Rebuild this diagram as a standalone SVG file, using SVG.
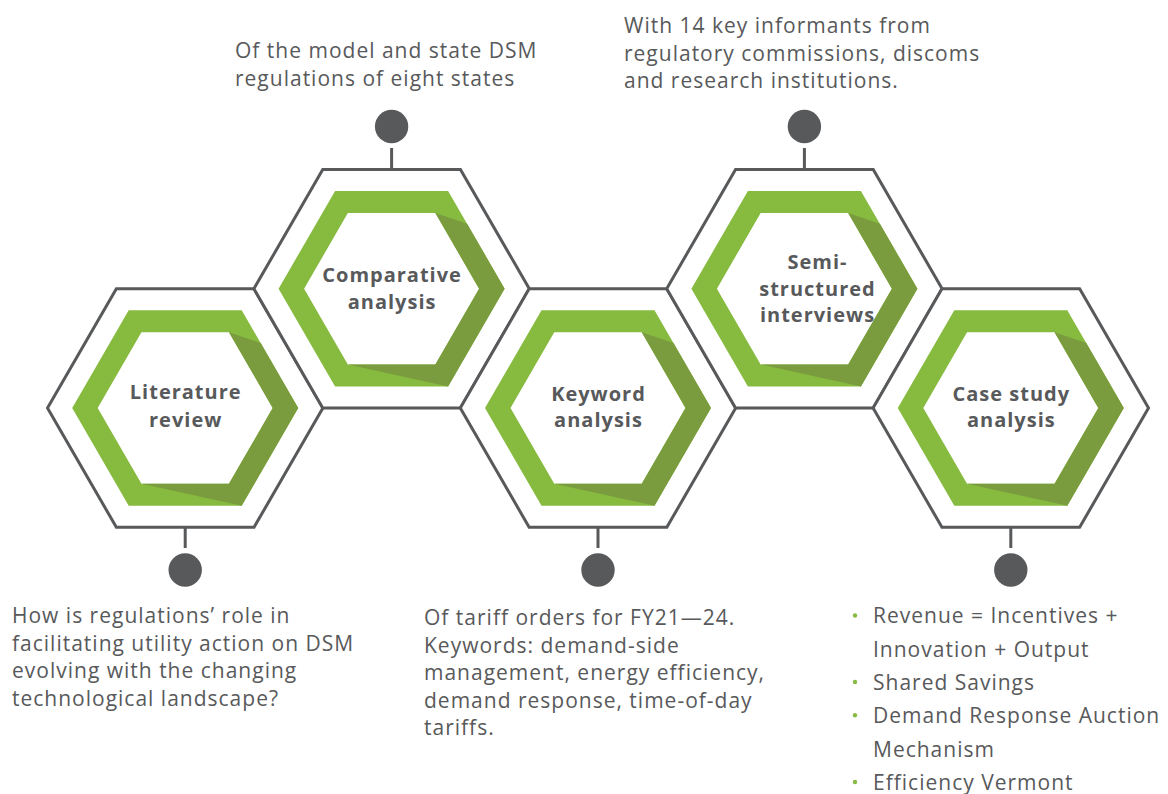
<svg xmlns="http://www.w3.org/2000/svg" xmlns:xlink="http://www.w3.org/1999/xlink" width="1168" height="794" viewBox="0 0 1168 794">
  <style>
    .frame { fill: #ffffff; stroke: #58595b; stroke-width: 3; stroke-linejoin: miter; }
    .ring { fill: #86bb40; fill-rule: evenodd; }
    .shade { fill: #7a9c3e; }
    .label { font-family: "Open Sans", "Liberation Sans", sans-serif; font-weight: 700; font-size: 20px; letter-spacing: 1px; fill: #58595b; text-anchor: middle; }
    .note { font-family: "Open Sans", "Liberation Sans", sans-serif; font-size: 21px; letter-spacing: 1px; fill: #58595b; }
    .stem { stroke: #58595b; stroke-width: 3; }
    .pin { fill: #58595b; }
    .dot { fill: #86bb40; }
  </style>
  <defs>
    <!-- one honeycomb cell, centred on the origin -->
    <g id="cell">
      <polygon class="frame" points="-137.7,0 -68.85,-119.25 68.85,-119.25 137.7,0 68.85,119.25 -68.85,119.25"/>
      <path class="ring" d="M-113,0 L-56.5,-97.86 L56.5,-97.86 L113,0 L56.5,97.86 L-56.5,97.86 Z M-87.5,0 L-43.75,-75.78 L43.75,-75.78 L87.5,0 L43.75,75.78 L-43.75,75.78 Z"/>
      <polygon class="shade" points="43.75,-75.78 75.5,-65 113,0 56.5,97.86 -43.75,75.78 43.75,75.78 87.5,0"/>
    </g>
  </defs>

  <!-- connectors: stems and pins -->
  <g id="connectors">
    <line class="stem" x1="185.2" y1="527" x2="185.2" y2="548"/>
    <circle class="pin" cx="185.2" cy="570" r="16.7"/>
    <line class="stem" x1="391.6" y1="170" x2="391.6" y2="148"/>
    <circle class="pin" cx="391.6" cy="126.5" r="16.7"/>
    <line class="stem" x1="598" y1="527" x2="598" y2="548"/>
    <circle class="pin" cx="598" cy="570" r="16.7"/>
    <line class="stem" x1="804.4" y1="170" x2="804.4" y2="148"/>
    <circle class="pin" cx="804.4" cy="126.5" r="16.7"/>
    <line class="stem" x1="1010.8" y1="527" x2="1010.8" y2="548"/>
    <circle class="pin" cx="1010.8" cy="570" r="16.7"/>
  </g>

  <g id="literature-review">
    <use xlink:href="#cell" href="#cell" x="185.2" y="408"/>
    <text class="label" x="185.7" y="399">Literature</text>
    <text class="label" x="185.7" y="426.5">review</text>
  </g>

  <g id="comparative-analysis">
    <use xlink:href="#cell" href="#cell" x="391.6" y="288.75"/>
    <text class="label" x="392.1" y="281.5">Comparative</text>
    <text class="label" x="392.1" y="308.5">analysis</text>
  </g>

  <g id="keyword-analysis">
    <use xlink:href="#cell" href="#cell" x="598" y="408"/>
    <text class="label" x="598.5" y="400.5">Keyword</text>
    <text class="label" x="598.5" y="427">analysis</text>
  </g>

  <g id="semi-structured-interviews">
    <use xlink:href="#cell" href="#cell" x="804.4" y="288.75"/>
    <text class="label" x="817.5" y="268.5">Semi-</text>
    <text class="label" x="817.5" y="295.5">structured</text>
    <text class="label" x="817.5" y="322">interviews</text>
  </g>

  <g id="case-study-analysis">
    <use xlink:href="#cell" href="#cell" x="1010.8" y="408"/>
    <text class="label" x="1011.3" y="400.5">Case study</text>
    <text class="label" x="1011.3" y="427">analysis</text>
  </g>

  <g id="note-comparative">
    <text class="note" x="235" y="58.3">Of the model and state DSM</text>
    <text class="note" x="235" y="85.8">regulations of eight states</text>
  </g>

  <g id="note-interviews">
    <text class="note" x="624" y="33">With 14 key informants from</text>
    <text class="note" x="624" y="60.5">regulatory commissions, discoms</text>
    <text class="note" x="624" y="88">and research institutions.</text>
  </g>

  <g id="note-literature">
    <text class="note" x="12" y="623.3">How is regulations’ role in</text>
    <text class="note" x="12" y="650.8">facilitating utility action on DSM</text>
    <text class="note" x="12" y="678.3">evolving with the changing</text>
    <text class="note" x="12" y="705.8">technological landscape?</text>
  </g>

  <g id="note-keyword">
    <text class="note" x="424" y="625">Of tariff orders for FY21—24.</text>
    <text class="note" x="424" y="652.5">Keywords: demand-side</text>
    <text class="note" x="424" y="680">management, energy efficiency,</text>
    <text class="note" x="424" y="707.5">demand response, time-of-day</text>
    <text class="note" x="424" y="735">tariffs.</text>
  </g>

  <g id="note-case-study">
    <circle class="dot" cx="855" cy="615.5" r="2.2"/>
    <text class="note" x="873" y="623.3">Revenue = Incentives +</text>
    <text class="note" x="873" y="656.6">Innovation + Output</text>
    <circle class="dot" cx="855" cy="682" r="2.2"/>
    <text class="note" x="873" y="690">Shared Savings</text>
    <circle class="dot" cx="855" cy="715.3" r="2.2"/>
    <text class="note" x="873" y="723.3">Demand Response Auction</text>
    <text class="note" x="873" y="756.6">Mechanism</text>
    <circle class="dot" cx="855" cy="782" r="2.2"/>
    <text class="note" x="873" y="790">Efficiency Vermont</text>
  </g>
</svg>
